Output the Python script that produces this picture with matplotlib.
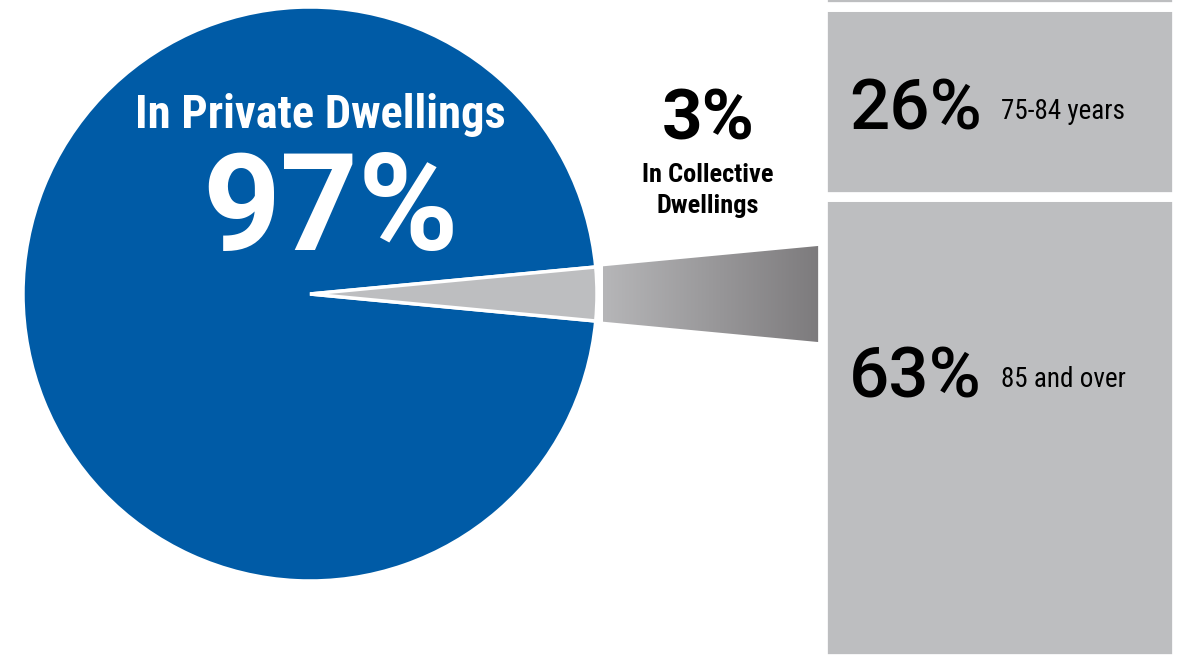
import numpy as np
import matplotlib.pyplot as plt
from matplotlib.colors import LinearSegmentedColormap
from matplotlib.patches import Polygon

# Data
pie_labels = ['In Private Dwellings', 'In Collective\nDwellings']
pie_values = [97, 3]
age_labels = ['85 and over', '75-84 years', '65-74 years']
age_values = [63, 26, 11]

W, H = 1178, 656
blue = '#005ba6'
grey = '#bdbec0'
cond = ['Roboto Condensed', 'DejaVu Sans']
wide = ['Roboto', 'DejaVu Sans']

fig = plt.figure(figsize=(W / 100, H / 100), dpi=100)
ax = fig.add_axes([0, 0, 1, 1])

# pie, small slice centred on the right
cx, cy, R = 310, 294, 287
half = pie_values[1] / 100 * 360 / 2
ax.pie(pie_values, colors=[blue, grey], center=(cx, cy), radius=R,
       startangle=half, counterclock=True,
       wedgeprops=dict(edgecolor='white', linewidth=2.5))

# gradient connector: the small slice carried on out to the bar
bar_left, bar_right = 823, 1177
x0, x1 = cx + R + 6, bar_left - 4
t = np.tan(np.radians(half))
pts = [(x0, cy - (x0 - cx) * t), (x1, cy - (x1 - cx) * t),
       (x1, cy + (x1 - cx) * t), (x0, cy + (x0 - cx) * t)]
poly = Polygon(pts, closed=True, facecolor='none', edgecolor='none')
ax.add_patch(poly)
cmap = LinearSegmentedColormap.from_list('conn', ['#b6b6b8', '#7d7b7d'])
grad = np.linspace(0, 1, 256).reshape(1, -1)
im = ax.imshow(grad, cmap=cmap, extent=(x0, x1, pts[2][1], pts[1][1]),
               aspect='auto', interpolation='bilinear')
im.set_clip_path(poly)

ax.set_xlim(0, W)
ax.set_ylim(H, 0)
ax.set_aspect('auto')
ax.axis('off')

ax.text(320, 128, pie_labels[0], color='white', fontsize=33.5, fontweight='bold',
        family=cond, ha='center', va='baseline')
ax.text(331, 250, f'{pie_values[0]}%', color='white', fontsize=98, fontweight='bold',
        family=wide, ha='center', va='baseline')
ax.text(708, 140, f'{pie_values[1]}%', color='black', fontsize=51, fontweight='bold',
        family=wide, ha='center', va='baseline')
ax.text(708, 213, pie_labels[1], color='black', fontsize=19, fontweight='bold',
        family=cond, ha='center', va='baseline', linespacing=1.35,
        multialignment='center')

# stacked bar on its own axes, scaled in percent
px_per_unit = 7.33
ax2 = fig.add_axes([0, 0, 1, 1])
ax2.patch.set_visible(False)
lo = 3 / px_per_unit
ax2.set_xlim(0, W)
ax2.set_ylim(lo, lo + H / px_per_unit)
ax2.axis('off')
bottoms = np.concatenate([[0], np.cumsum(age_values)[:-1]])
ax2.bar((bar_left + bar_right) / 2, age_values, width=bar_right - bar_left,
        bottom=bottoms, color=grey, edgecolor='white', linewidth=7)

# labels for the visible segments (pixel baselines)
big_base = [398, 130]
small_base = [387, 119]
for i in range(2):
    ax2.text(849, lo + (H - big_base[i]) / px_per_unit, f'{age_values[i]}%',
             fontsize=51, fontweight='medium', family=wide,
             ha='left', va='baseline')
    ax2.text(1001, lo + (H - small_base[i]) / px_per_unit, age_labels[i],
             fontsize=19.5, family=cond, ha='left', va='baseline')

fig.savefig('out.png', dpi=100)
